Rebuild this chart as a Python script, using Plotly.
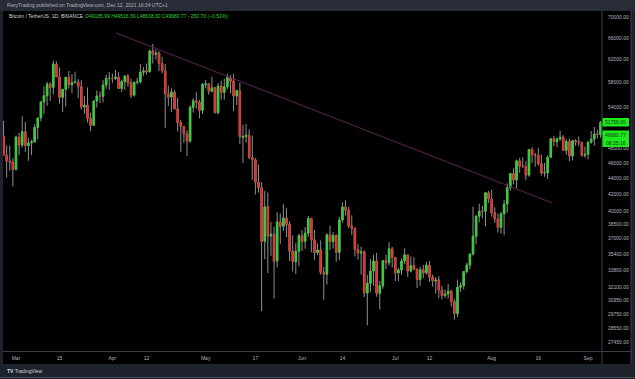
import plotly.graph_objects as go
import pandas as pd
import numpy as np

# ---------------- data ----------------
dates = pd.date_range("2021-02-25", "2021-09-05", freq="D")

opens = [
    49676, 47073, 46276, 46106,
    45135, 49587, 48440, 50349, 48374, 48751, 48882, 50971, 52375, 54874, 55851, 57773, 57221, 61188, 58976, 55606,
    56900, 58912, 57641, 58030, 58100, 57351, 54083, 54342, 52304, 51293, 55026, 55820, 55777, 57629, 58730,
    58739, 58720, 58950, 57051, 58202, 59129, 57990, 55953, 58077, 58130, 59770, 60007, 59860, 63575, 62959,
    63159, 61334, 60006, 56150, 55663, 56425, 53788, 51691, 51110, 50047, 49004, 54014, 55036, 54825, 53555,
    57697, 57797, 56578, 57169, 53205, 57436, 56393, 57315, 58866, 58240, 55816, 56670, 49537, 49671, 49844,
    46762, 46426, 43538, 42849, 36706, 40596, 37252, 37449, 34681, 38796, 38324, 39241, 38529, 35661, 34606, 35659,
    37294, 36687, 37569, 39180, 36851, 35521, 35797, 33557, 33380, 37389, 36663, 37331, 35546, 39021, 40516,
    40143, 38349, 38098, 35841, 35484, 35601, 31614, 32509, 33676, 34663, 31576, 32283, 34702, 34494, 35911,
    35045, 33502, 33787, 34668, 35288, 33691, 34220, 33863, 32877, 33816, 33503, 34259, 33087, 32730, 32821,
    31874, 31384, 31521, 31778, 30839, 29790, 32144, 32287, 33635, 34261, 35381, 37241, 39456, 40020, 40016, 42207,
    41461, 39850, 39146, 38207, 39723, 40862, 42836, 44614, 43792, 46281, 45595, 45554, 44428, 47833, 47110,
    47015, 45903, 44696, 44715, 46769, 49340, 48906, 49322, 49546, 47707, 48960, 46942, 49058, 48903, 48811, 47054,
    47166, 48847, 49279, 50025, 49944,
]
highs = [
    51948, 48424, 48394, 46640,
    49790, 50200, 52640, 51773, 49448, 49200, 51450, 52402, 54895, 57387, 58150, 58058, 61844, 61684, 60633, 56938,
    58982, 60000, 59468, 59880, 58589, 58430, 55830, 57200, 53230, 55073, 56700, 56559, 58405, 59368, 59800,
    59490, 60200, 59791, 58500, 59251, 59474, 58650, 58153, 58869, 61200, 60658, 61300, 63777, 64854, 63800,
    63520, 62500, 61220, 57526, 57076, 56757, 55500, 52130, 51200, 50551, 54356, 55460, 56428, 55200, 57963,
    58458, 57911, 58973, 57200, 57937, 58360, 58650, 59500, 59300, 59500, 56862, 58000, 51367, 51468, 50700,
    49800, 46686, 45800, 43546, 42451, 42250, 38829, 38270, 39920, 39791, 40841, 40411, 38877, 37338, 36488, 37499,
    37896, 38237, 39476, 39289, 37917, 36480, 36800, 34068, 37534, 38400, 37689, 37446, 39380, 41064, 41330,
    40527, 39559, 38202, 36457, 36139, 35750, 33298, 34881, 35298, 35500, 32731, 34749, 35297, 36600, 36100,
    35057, 33977, 34945, 35967, 35293, 35118, 35059, 33929, 34100, 34267, 34592, 34679, 33340, 33114, 33185,
    32249, 31936, 32435, 31899, 31063, 32858, 32591, 33650, 34500, 35398, 40550, 39542, 40900, 40640, 42316, 42448,
    42599, 40480, 39780, 39969, 41350, 43392, 44700, 45310, 46454, 46700, 46743, 46218, 47886, 48144, 47372,
    48053, 47160, 46000, 47033, 49382, 49757, 49500, 50500, 49876, 49277, 49380, 49170, 49300, 49658, 48930, 48246,
    48960, 50450, 51054, 50558, 51900,
]
lows = [
    46993, 44106, 45000, 43000,
    45115, 47047, 48100, 47500, 46300, 47070, 48882, 49274, 51845, 53005, 54272, 55013, 56078, 58963, 54600, 53271,
    54120, 57023, 56270, 57820, 55450, 53650, 53000, 51700, 50427, 51225, 53967, 54691, 54800, 57000, 56770,
    57935, 58428, 56955, 56478, 56817, 57333, 55473, 55700, 57672, 57873, 59177, 59365, 59770, 61301, 62020,
    60000, 59580, 50931, 54221, 53329, 53696, 50400, 47500, 48750, 46930, 48754, 53222, 53813, 52330, 53013,
    57052, 56035, 56478, 53046, 52900, 55200, 55241, 56900, 56235, 53400, 54370, 48600, 46000, 48799, 46555,
    43825, 42001, 42250, 30000, 34850, 33488, 35200, 31111, 34031, 36419, 37800, 37134, 34684, 33632, 33379, 34153,
    35666, 35920, 37170, 35555, 34800, 35258, 33333, 31000, 32396, 35782, 35936, 34600, 34757, 38730, 39506,
    38116, 37365, 35129, 34803, 33336, 31251, 28805, 31683, 32286, 31275, 30151, 32000, 33862, 34225, 34017,
    32711, 32699, 33316, 34357, 33125, 33532, 33777, 32077, 32261, 33005, 33332, 32658, 32202, 31550, 31133,
    31020, 31164, 31108, 30407, 29278, 29482, 31708, 31924, 33401, 33851, 35205, 36383, 38772, 39200, 38313, 41000,
    39422, 38690, 37642, 37508, 37332, 39853, 42446, 43261, 42779, 44723, 45341, 43770, 44217, 45971, 45500,
    45660, 44376, 44203, 43927, 46644, 48280, 48114, 49029, 47600, 47123, 46250, 46363, 48346, 48300, 46853, 46700,
    46512, 48633, 48349, 49400, 49500,
]
closes = [
    47073, 46276, 46106, 45135,
    49587, 48440, 50349, 48374, 48751, 48882, 50971, 52375, 54884, 55851, 57773, 57221, 61188, 58968, 55605, 56900,
    58912, 57649, 58031, 58102, 57352, 54083, 54340, 52303, 51293, 55026, 55820, 55777, 57628, 58730, 58741,
    58720, 58950, 57051, 58202, 59129, 57991, 55962, 58079, 58130, 59770, 60007, 59860, 63575, 62959, 63159,
    61334, 60006, 56150, 55633, 56425, 53787, 51690, 51125, 50047, 49004, 54021, 55033, 54824, 53555, 57694,
    57800, 56578, 57169, 53200, 57436, 56393, 57314, 58862, 58240, 55816, 56670, 49631, 49671, 49841, 46762,
    46431, 43538, 42849, 36690, 40526, 37252, 37449, 34655, 38796, 38324, 39241, 38529, 35663, 34605, 35658, 37294,
    36687, 37555, 39187, 36851, 35520, 35797, 33553, 33380, 37389, 36662, 37331, 35546, 39020, 40516, 40144,
    38349, 38092, 35841, 35484, 35600, 31608, 32509, 33678, 34663, 31584, 32283, 34700, 34494, 35911, 35045,
    33504, 33787, 34669, 35287, 33690, 34220, 33862, 32875, 33815, 33502, 34259, 33086, 32729, 32820, 31880,
    31383, 31520, 31778, 30839, 29790, 32144, 32287, 33634, 34259, 35381, 37237, 39457, 40019, 40016, 42206, 41461,
    39845, 39147, 38207, 39723, 40862, 42836, 44614, 43792, 46285, 45596, 45554, 44428, 47833, 47109, 47015,
    45902, 44696, 44714, 46760, 49339, 48905, 49321, 49546, 47706, 48960, 46942, 49058, 48903, 48812, 47054, 47166,
    48847, 49280, 50026, 49944, 51756,
]

trend_dates = ["2021-04-02 04:00", "2021-08-20 10:00"]
trend_prices = [66960, 41000]

y_ticks = [70000, 66000, 62000, 58000, 54000, 48000, 46000, 44000, 42000, 40000,
           38500, 37000, 35400, 33800, 32100, 30950, 29750, 28550, 27450]
x_tick_dates = ["2021-03-01", "2021-03-15", "2021-04-01", "2021-04-12", "2021-05-01", "2021-05-17",
                "2021-06-01", "2021-06-14", "2021-07-01", "2021-07-12", "2021-08-01", "2021-08-16",
                "2021-09-01"]
x_tick_text = ["Mar", "15", "Apr", "12", "May", "17", "Jun", "14", "Jul", "12", "Aug", "16", "Sep"]

current_price = 49680.77
countdown = "08:25:16"
header_title = "FieryTrading published on TradingView.com, Dec 12, 2021 16:34 UTC+1"
symbol_text = "Bitcoin / TetherUS, 1D, BINANCE"
ohlc_text = "O49185.99 H49516.39 L48638.30 C49680.77 \u2212250.70 (\u22120.51%)"

# ---------------- layout geometry ----------------
W, H = 635, 379
L, R, T, B = 3, 33, 11, 28
pw, ph = W - L - R, H - T - B


def px(x):
    return (x - L) / pw


def py(y):
    return 1 - (y - T) / ph


GREEN = "#2fd52f"
RED = "#e5302a"
WICK = "#8f8f8f"
TXT = "#b2b5be"
FONT = "Liberation Sans"

body_hi = np.maximum(opens, closes)
body_lo = np.minimum(opens, closes)

fig = go.Figure()

# wicks
fig.add_trace(go.Candlestick(
    x=dates, open=opens, high=highs, low=lows, close=closes,
    increasing=dict(line=dict(color=WICK, width=1), fillcolor=WICK),
    decreasing=dict(line=dict(color=WICK, width=1), fillcolor=WICK),
    hoverinfo="skip", showlegend=False,
))
# bodies
fig.add_trace(go.Candlestick(
    x=dates, open=opens, high=body_hi, low=body_lo, close=closes,
    increasing=dict(line=dict(color=GREEN, width=0.5), fillcolor=GREEN),
    decreasing=dict(line=dict(color=RED, width=0.5), fillcolor=RED),
    hoverinfo="skip", showlegend=False,
))
# trend line
fig.add_trace(go.Scatter(
    x=pd.to_datetime(trend_dates), y=trend_prices, mode="lines",
    line=dict(color="#5c2456", width=1), hoverinfo="skip", showlegend=False,
))

px_per_day = 3.109
mar1 = pd.Timestamp("2021-03-01")
x_left = mar1 - pd.Timedelta(days=(16 - L) / px_per_day)
x_right = x_left + pd.Timedelta(days=pw / px_per_day)

y_lo, y_hi = 26740, 71330

shapes = [
    dict(type="rect", xref="paper", yref="paper", x0=px(0), x1=px(W), y0=py(0), y1=py(T),
         fillcolor="#282c37", line_width=0, layer="below"),
    dict(type="rect", xref="paper", yref="paper", x0=px(3), x1=px(631), y0=py(11), y1=py(364),
         fillcolor="#000000", line_width=0, layer="below"),
    dict(type="line", xref="paper", yref="paper", x0=px(602), x1=px(602), y0=py(11), y1=py(364),
         line=dict(color="#3a3e49", width=1)),
    dict(type="line", xref="paper", yref="paper", x0=px(631), x1=px(631), y0=py(11), y1=py(364),
         line=dict(color="#3a3e49", width=1)),
    dict(type="line", xref="paper", yref="paper", x0=px(3), x1=px(631), y0=py(351.5), y1=py(351.5),
         line=dict(color="#3a3e49", width=1)),
    dict(type="line", xref="paper", yref="paper", x0=px(0), x1=px(W), y0=py(377.5), y1=py(377.5),
         line=dict(color="#454956", width=1)),
    # price label boxes
    dict(type="rect", xref="paper", yref="paper", x0=px(602.5), x1=px(629), y0=py(118), y1=py(126.5),
         fillcolor="#1ee81e", line_width=0, layer="above"),
    dict(type="rect", xref="paper", yref="paper", x0=px(602.5), x1=px(629), y0=py(130.5), y1=py(147),
         fillcolor="#1ee81e", line_width=0, layer="above"),
]

annotations = [
    dict(text=header_title, x=px(5), y=py(4.8), xref="paper", yref="paper",
         xanchor="left", yanchor="middle", showarrow=False, font=dict(size=5, color=TXT, family=FONT)),
    dict(text=symbol_text, x=px(7), y=py(16), xref="paper", yref="paper",
         xanchor="left", yanchor="middle", showarrow=False, font=dict(size=5, color="#d1d4dc", family=FONT)),
    dict(text=ohlc_text, x=px(83), y=py(16), xref="paper", yref="paper",
         xanchor="left", yanchor="middle", showarrow=False, font=dict(size=5, color=GREEN, family=FONT)),
    dict(text=f"{closes[-1]:.2f}", x=px(615.8), y=py(122.3), xref="paper", yref="paper",
         xanchor="center", yanchor="middle", showarrow=False, font=dict(size=5, color="#0a3a0a", family=FONT)),
    dict(text=f"{current_price:.2f}", x=px(615.8), y=py(135.3), xref="paper", yref="paper",
         xanchor="center", yanchor="middle", showarrow=False, font=dict(size=5, color="#0a3a0a", family=FONT)),
    dict(text=countdown, x=px(615.8), y=py(142.5), xref="paper", yref="paper",
         xanchor="center", yanchor="middle", showarrow=False, font=dict(size=5, color="#0a3a0a", family=FONT)),
    dict(text="<b>TV</b> TradingView", x=px(5), y=py(370.5), xref="paper", yref="paper",
         xanchor="left", yanchor="middle", showarrow=False, font=dict(size=5, color="#d1d4dc", family=FONT)),
]

fig.update_layout(
    width=W, height=H,
    margin=dict(l=L, r=R, t=T, b=B, pad=0),
    paper_bgcolor="#1e222d",
    plot_bgcolor="#000000",
    showlegend=False,
    hovermode=False,
    shapes=shapes,
    annotations=annotations,
    xaxis=dict(
        type="date", range=[x_left, x_right], rangeslider=dict(visible=False),
        showgrid=False, zeroline=False, showline=False, ticks="",
        tickmode="array", tickvals=pd.to_datetime(x_tick_dates), ticktext=x_tick_text,
        tickfont=dict(size=5, color=TXT, family=FONT), ticklabelstandoff=3,
        fixedrange=True,
    ),
    yaxis=dict(
        type="log", range=[np.log10(y_lo), np.log10(y_hi)], side="right",
        showgrid=False, zeroline=False, showline=False, ticks="",
        tickmode="array", tickvals=y_ticks, ticktext=[f"{v:.2f}" for v in y_ticks],
        tickfont=dict(size=5, color=TXT, family=FONT), ticklabelstandoff=5,
        fixedrange=True,
    ),
)

fig.write_html(
    "out.html",
    config={"displayModeBar": False},
    post_script="document.body.style.margin='0';document.body.style.overflow='hidden';"
                "document.body.style.background='#1e222d';",
)
